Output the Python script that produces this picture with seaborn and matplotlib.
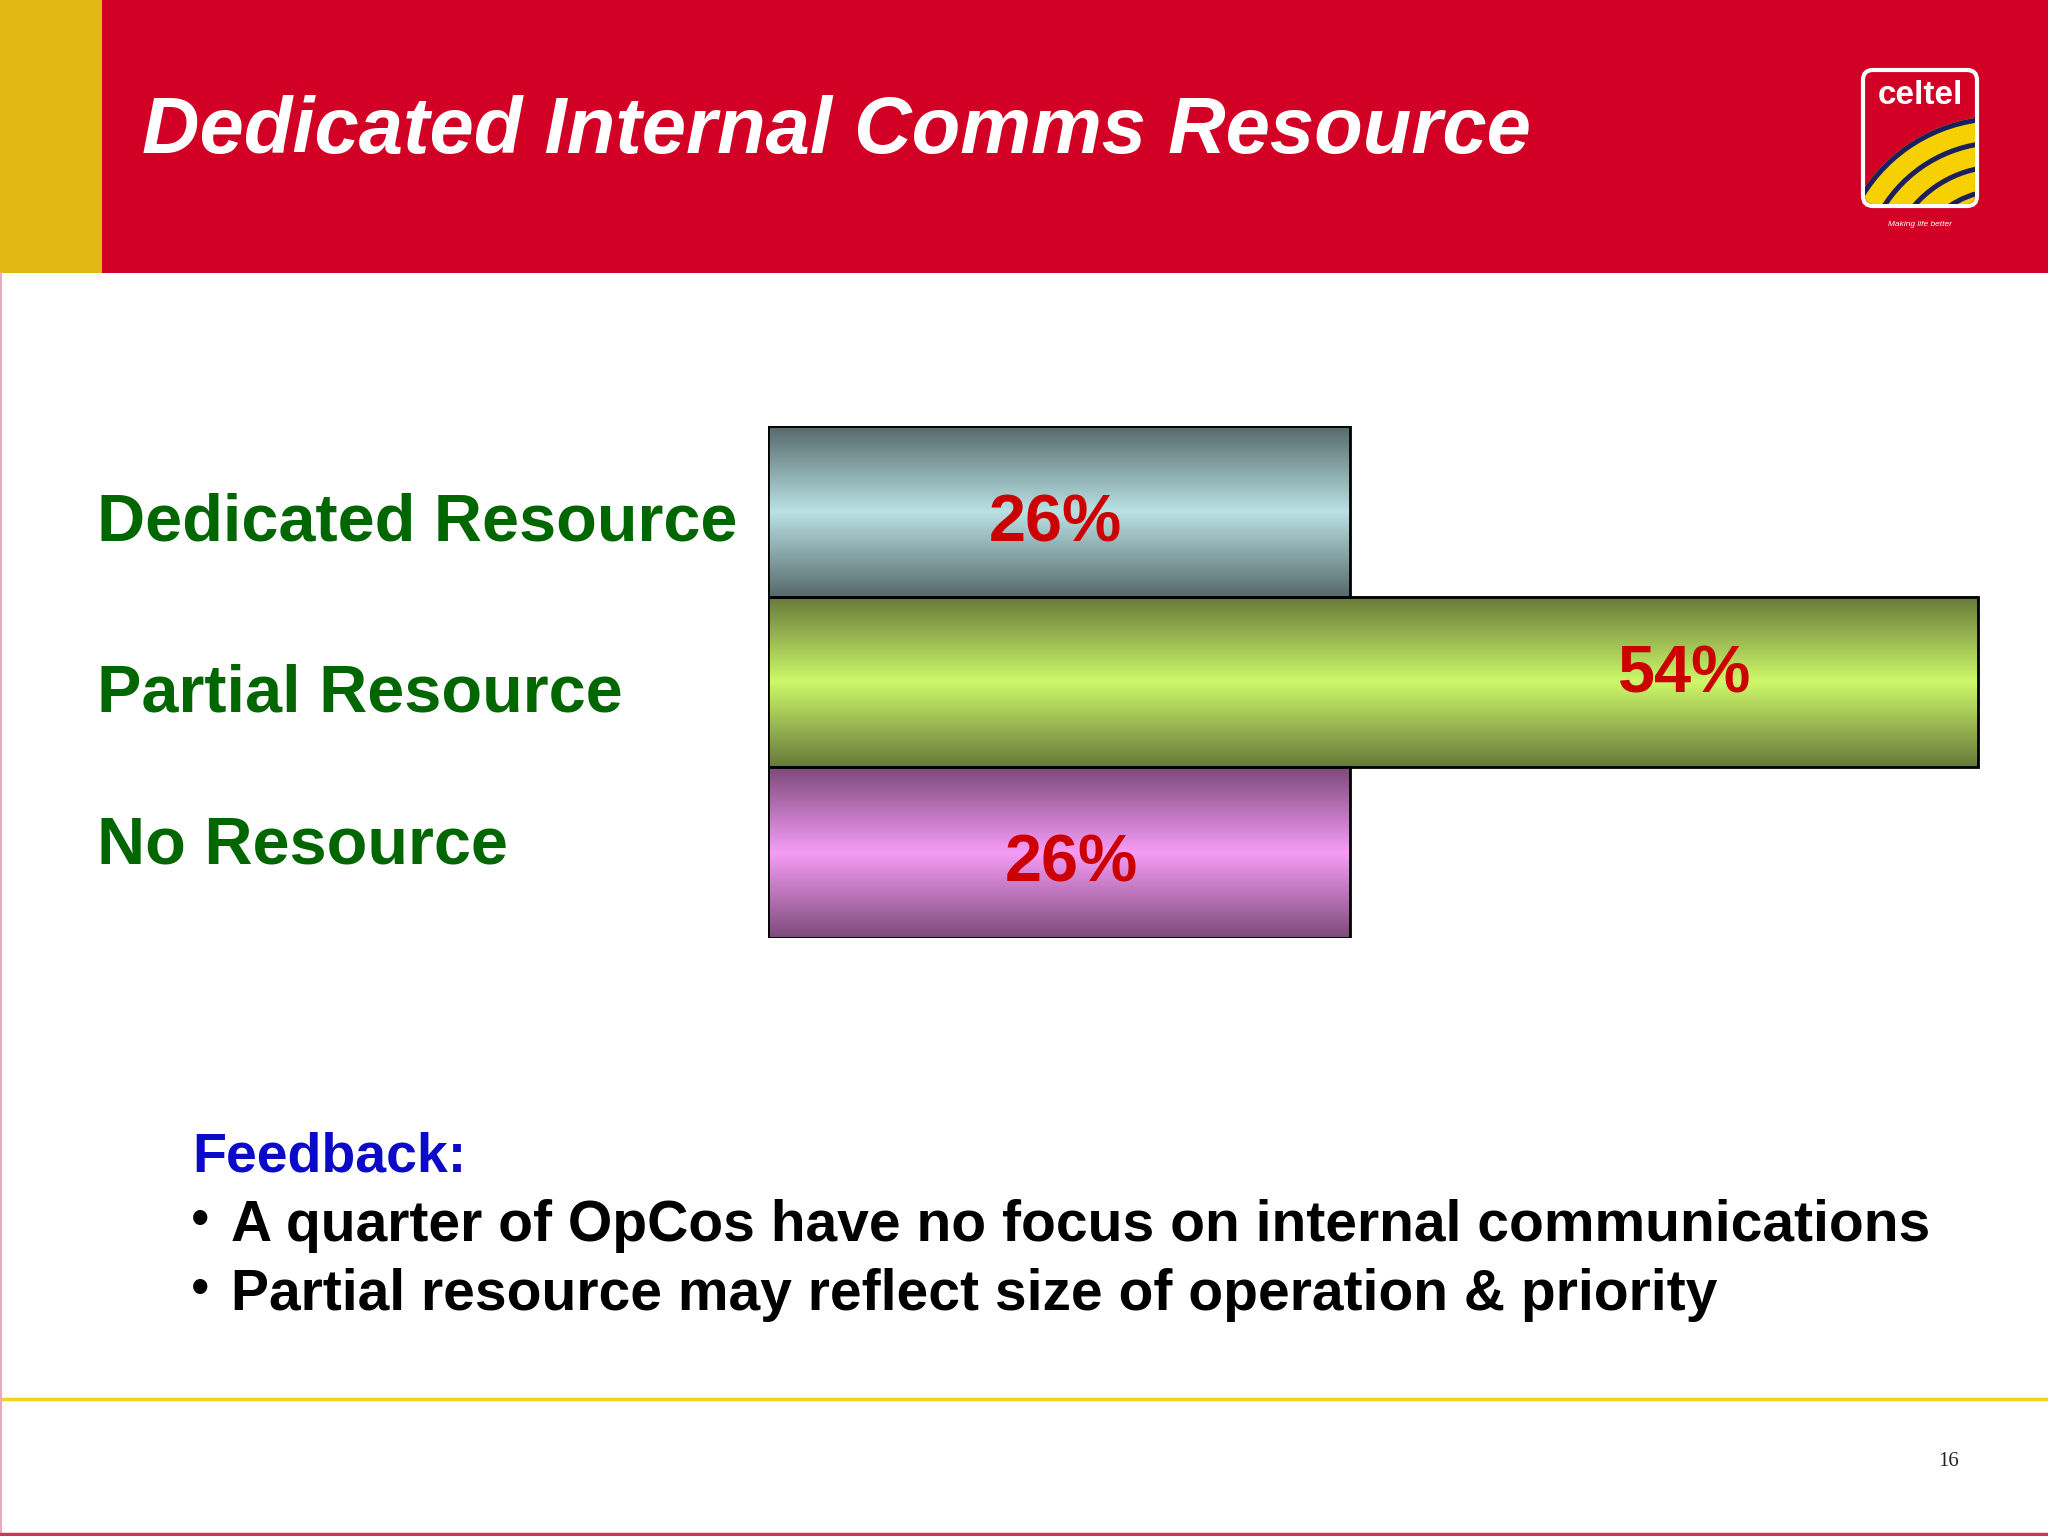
import numpy as np
import pandas as pd
import matplotlib
matplotlib.use("Agg")
import matplotlib.pyplot as plt
import matplotlib.transforms as mtransforms
from matplotlib.patches import Rectangle, FancyBboxPatch, Wedge
import seaborn as sns

# data
categories = ["Dedicated Resource", "Partial Resource", "No Resource"]
values = [26, 54, 26]
value_labels = ["26%", "54%", "26%"]
title = "Dedicated Internal Comms Resource"
feedback_head = "Feedback:"
feedback_points = ["A quarter of OpCos have no focus on internal communications",
                   "Partial resource may reflect size of operation & priority"]
page_no = "16"

# (edge, middle) colours for the cylinder shading of each bar
bar_shades = [("#56696b", "#b9e2e4"), ("#67793a", "#cdf86a"), ("#7d4a7b", "#f69cf6")]
label_pos = [(0.493, 0.08), (0.758, -0.04), (0.52, 0.07)]
cat_offset = [0.17, 0.17, 0.065]

sns.set_theme(style="white")
plt.rcParams["font.family"] = ["Liberation Sans", "DejaVu Sans"]

W, H = 2048, 1536
fig = plt.figure(figsize=(W / 100, H / 100), dpi=100)
fig.patch.set_facecolor("white")

# header band, footer and slide furniture
hdr = fig.add_axes([0, 0, 1, 1], zorder=0)
hdr.set_xlim(0, W)
hdr.set_ylim(H, 0)
hdr.axis("off")
hdr.add_patch(Rectangle((0, 0), W, 273, color="#d20024", lw=0))
hdr.add_patch(Rectangle((0, 0), 102, 273, color="#e1b912", lw=0))
hdr.plot([0, W], [1399, 1399], color="#f2d21a", lw=2.5)
hdr.plot([1, 1], [273, H], color="#f3a6c0", lw=1.5)
hdr.plot([0, W], [1534, 1534], color="#d4325a", lw=2.5)
hdr.text(142, 153, title, color="white", fontsize=57.3, fontweight="bold",
         fontstyle="italic", va="baseline", ha="left")
hdr.text(1949, 1461, page_no, color="#222222", fontsize=15,
         family=["Liberation Serif", "DejaVu Serif"], ha="center", va="center")

# logo
hdr.add_patch(FancyBboxPatch((1863, 70), 114, 136, boxstyle="round,pad=0,rounding_size=10",
                             fc="#d20024", ec="white", lw=3))
clip = FancyBboxPatch((1865, 72), 110, 132, boxstyle="round,pad=0,rounding_size=9",
                      fc="none", ec="none")
hdr.add_patch(clip)
wd = Wedge((2000, 280), 164, 0, 360, fc="#f7d000", ec="none")
hdr.add_patch(wd)
wd.set_clip_path(clip)
for r in [164, 140, 116, 92, 70, 48]:
    arc = Wedge((2000, 280), r, 180, 290, width=5, fc="#1b1f5e", ec="none")
    hdr.add_patch(arc)
    arc.set_clip_path(clip)
hdr.text(1920, 96, "celtel", color="white", fontsize=24, fontweight="bold",
         ha="center", va="center")
hdr.text(1920, 225, "Making life better", color="white", fontsize=6,
         fontstyle="italic", ha="center", va="center")

# bar chart
df = pd.DataFrame({"category": categories, "value": values})
ax = fig.add_axes([768 / W, 1 - 938 / H, 1277 / W, 512 / H], zorder=2)
sns.barplot(data=df, x="value", y="category", orient="h", width=1.0,
            color="white", ax=ax)
ax.axis("off")
ax.patch.set_alpha(0)

for i, p in enumerate(ax.patches):
    x0, y0 = p.get_x(), p.get_y()
    w, h = p.get_width(), p.get_height()
    edge, mid = bar_shades[i]
    cmap = matplotlib.colors.LinearSegmentedColormap.from_list(
        "shade%d" % i, [(0, edge), (0.5, mid), (1, edge)], N=256)
    grad = np.linspace(0, 1, 256).reshape(-1, 1)
    ax.imshow(grad, cmap=cmap, aspect="auto", extent=(x0, x0 + w, y0 + h, y0),
              zorder=1, interpolation="bilinear")
    p.set_facecolor("none")
    p.set_edgecolor("black")
    p.set_linewidth(2)
    p.set_zorder(3)
    fx, dy = label_pos[i]
    ax.text(x0 + w * fx, y0 + h / 2 + dy, value_labels[i], color="#cc0000",
            fontsize=48, fontweight="bold", ha="center", va="center",
            family=["Liberation Sans Narrow", "Liberation Sans", "DejaVu Sans"], zorder=4)
ax.set_xlim(0, 57)
ax.set_ylim(2.5, -0.5)

# category labels on the left
tr = mtransforms.blended_transform_factory(fig.transFigure, ax.transData)
for i, c in enumerate(categories):
    ax.text(97 / W, i + cat_offset[i], c, transform=tr, color="#006600", fontsize=48,
            fontweight="bold", ha="left", va="baseline", clip_on=False)

# feedback block
hdr.text(192, 1158, feedback_head, color="#0a0ac8", fontsize=40,
         fontweight="bold", ha="left", va="center")
for k, line in enumerate(feedback_points):
    yy = 1226 + k * 69
    hdr.text(191, yy - 4, "\u2022", color="black", fontsize=38, ha="left", va="center")
    hdr.text(231, yy, line, color="black", fontsize=41, fontweight="bold",
             ha="left", va="center")

fig.savefig("out.png", dpi=100)
